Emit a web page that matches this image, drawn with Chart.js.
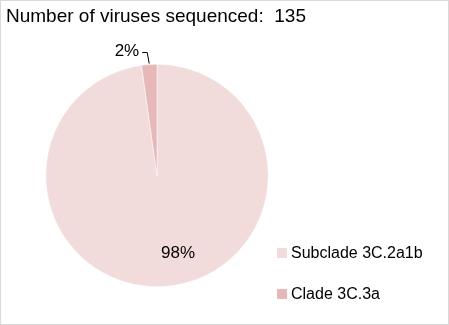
<!DOCTYPE html>
<html>
<head>
<meta charset="utf-8">
<script src="https://cdn.jsdelivr.net/npm/chart.js@4/dist/chart.umd.min.js"></script>
<style>
  html, body { margin: 0; padding: 0; background: #fff; }
  #wrap { position: relative; width: 449px; height: 325px; box-sizing: border-box; border: 1px solid #d9d9d9; }
  canvas { position: absolute; left: 0; top: 0; }
</style>
</head>
<body>
<div id="wrap"><canvas id="pieChart" width="449" height="325"></canvas></div>
<script>
const titleText = 'Number of viruses sequenced:  135';
const categories = ['Subclade 3C.2a1b', 'Clade 3C.3a'];
const counts = [132, 3];
const percentLabels = ['98%', '2%'];
const colors = ['#f2dcdb', '#e6b9b8'];

const FONT = '"Liberation Sans", Arial, sans-serif';

// title, slice labels and legend drawn by hand to match the spreadsheet look
const decorations = {
    id: 'decorations',
    afterDraw(chart) {
        const ctx = chart.ctx;
        const arcs = chart.getDatasetMeta(0).data;
        ctx.save();
        ctx.fillStyle = '#000';
        ctx.textBaseline = 'alphabetic';

        ctx.font = '19px ' + FONT;
        ctx.textAlign = 'left';
        ctx.fillText(titleText, 5, 21);

        // big slice label inside
        ctx.font = '17px ' + FONT;
        ctx.textAlign = 'center';
        const big = arcs[0];
        ctx.fillText(percentLabels[0], big.x + 21, big.y + 82);

        // small slice label outside with leader line
        const small = arcs[1];
        const mid = (small.startAngle + small.endAngle) / 2;
        const ex = small.x + Math.cos(mid) * small.outerRadius;
        const ey = small.y + Math.sin(mid) * small.outerRadius;
        ctx.strokeStyle = '#000';
        ctx.lineWidth = 1;
        ctx.beginPath();
        ctx.moveTo(ex, ey - 1);
        ctx.lineTo(ex - 2, ey - 12);
        ctx.lineTo(ex - 7, ey - 12);
        ctx.stroke();
        ctx.textAlign = 'right';
        ctx.fillText(percentLabels[1], ex - 10, ey - 9);

        // legend
        ctx.font = '16px ' + FONT;
        ctx.textAlign = 'left';
        ctx.textBaseline = 'middle';
        categories.forEach((name, i) => {
            const y = 252 + i * 41;
            ctx.fillStyle = colors[i];
            ctx.fillRect(276, y - 5, 10, 10);
            ctx.fillStyle = '#000';
            ctx.fillText(name, 290, y + 1);
        });
        ctx.restore();
    }
};

new Chart(document.getElementById('pieChart'), {
    type: 'pie',
    data: {
        labels: categories,
        datasets: [{
            data: counts,
            backgroundColor: colors,
            borderColor: '#ffffff',
            borderWidth: 0.5
        }]
    },
    options: {
        responsive: false,
        animation: false,
        layout: { padding: { left: 44, right: 181, top: 63, bottom: 39 } },
        plugins: {
            legend: { display: false },
            tooltip: { enabled: false }
        }
    },
    plugins: [decorations]
});
</script>
</body>
</html>
